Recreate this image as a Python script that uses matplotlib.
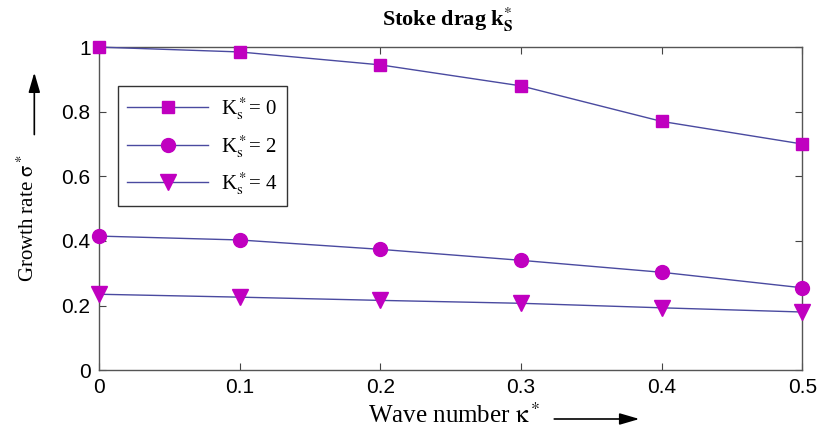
import matplotlib
matplotlib.use("Agg")
from matplotlib import pyplot as plt

wave_number = [0, 0.1, 0.2, 0.3, 0.4, 0.5]
sigma_ks0 = [1.0, 0.985, 0.945, 0.88, 0.77, 0.70]
sigma_ks2 = [0.415, 0.403, 0.374, 0.34, 0.303, 0.255]
sigma_ks4 = [0.235, 0.226, 0.216, 0.207, 0.193, 0.18]
labels = [r"K$_\mathrm{s}^*$= 0", r"K$_\mathrm{s}^*$= 2", r"K$_\mathrm{s}^*$= 4"]

line_col = "#4a4aa0"
mark_col = "#c000c0"

plt.rcParams["mathtext.fontset"] = "stix"

fig = plt.figure(figsize=(8.17, 4.36), dpi=100)
ax = fig.add_axes([0.121, 0.151, 0.861, 0.741])

for ys, mk, ms, lab in zip([sigma_ks0, sigma_ks2, sigma_ks4], ["s", "o", "v"],
                           [9, 10, 11], labels):
    ax.plot(wave_number, ys, color=line_col, lw=1.0, marker=mk, ms=ms,
            mfc=mark_col, mec=mark_col, label=lab, clip_on=False, zorder=3)

ax.set_xlim(0, 0.5)
ax.set_ylim(0, 1)
ax.set_xticks(wave_number)
ax.set_xticklabels(["0", "0.1", "0.2", "0.3", "0.4", "0.5"])
ax.set_yticks([0, 0.2, 0.4, 0.6, 0.8, 1])
ax.set_yticklabels(["0", "0.2", "0.4", "0.6", "0.8", "1"])
ax.tick_params(direction="in", top=True, right=True, length=5,
               labelsize=15, pad=6, color="#444444")
for lbl in ax.get_xticklabels() + ax.get_yticklabels():
    lbl.set_family("Liberation Sans")
for sp in ax.spines.values():
    sp.set_color("#555555")
    sp.set_linewidth(1.0)

leg = ax.legend(loc="upper left", bbox_to_anchor=(0.027, 0.879),
                borderaxespad=0, fancybox=False, edgecolor="#333333",
                framealpha=1, prop={"family": "Liberation Serif", "size": 15},
                handlelength=3.9, borderpad=0.45, labelspacing=0.5,
                handletextpad=0.6)
leg.get_frame().set_linewidth(1.0)

fig.text(0.548, 0.955, r"Stoke drag k$_{\mathbf{S}}^{*}$", ha="center",
         va="center", family="Liberation Serif", fontsize=16, fontweight="bold")

# axis labels with arrows
fig.text(0.661, 0.046, r"Wave number $\mathrm{\kappa}^*$", ha="right",
         va="center", family="Liberation Serif", fontsize=18)
fig.add_artist(plt.Annotation("", xy=(0.786, 0.039), xytext=(0.675, 0.039),
                              xycoords="figure fraction",
                              arrowprops=dict(arrowstyle="-|>,head_length=1.2,head_width=0.35",
                                              color="black", lw=1.2)))
fig.text(0.034, 0.5, r"Growth rate $\mathrm{\sigma}^*$", ha="center",
         va="center", rotation=90, family="Liberation Serif", fontsize=15)
fig.add_artist(plt.Annotation("", xy=(0.042, 0.84), xytext=(0.042, 0.685),
                              xycoords="figure fraction",
                              arrowprops=dict(arrowstyle="-|>,head_length=1.2,head_width=0.35",
                                              color="black", lw=1.2)))

fig.savefig("out.png", dpi=100)
